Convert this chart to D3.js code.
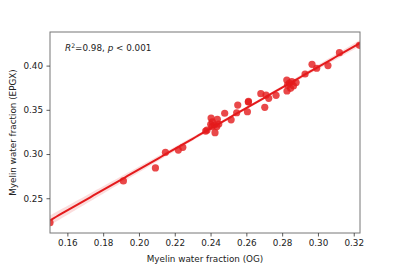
<!DOCTYPE html>
<html>
<head>
<meta charset="utf-8">
<script src="https://cdn.jsdelivr.net/npm/d3@7"></script>
<style>
body{margin:0;background:#fff;}
text{font-family:"DejaVu Sans",sans-serif;}
</style>
</head>
<body>
<svg id="c" width="400" height="267"></svg>
<script>
const ogValues = [0.1503,0.1913,0.2092,0.2148,0.2220,0.2245,0.2373,0.2380,0.2403,0.2401,0.2421,0.2438,0.2446,0.2425,0.2408,0.2435,0.2410,0.2479,0.2515,0.2552,0.2546,0.2606,0.2611,0.2612,0.2681,0.2703,0.2710,0.2725,0.2766,0.2826,0.2827,0.2840,0.2854,0.2863,0.2878,0.2847,0.2830,0.2928,0.2967,0.2993,0.3056,0.3120,0.3232];
const epgxValues = [0.2224,0.2696,0.2843,0.3020,0.3045,0.3076,0.3260,0.3270,0.3407,0.3336,0.3328,0.3392,0.3339,0.3241,0.3309,0.3310,0.3365,0.3461,0.3387,0.3554,0.3467,0.3478,0.3588,0.3595,0.3682,0.3528,0.3667,0.3630,0.3664,0.3837,0.3713,0.3801,0.3819,0.3770,0.3808,0.3743,0.3780,0.3905,0.4015,0.3970,0.4000,0.4146,0.4229];
const xTicks = [0.16,0.18,0.20,0.22,0.24,0.26,0.28,0.30,0.32];
const yTicks = [0.25,0.30,0.35,0.40];
const xDomain = [0.1503,0.3235];
const yDomain = [0.2107,0.438];
const xLabel = "Myelin water fraction (OG)";
const yLabel = "Myelin water fraction (EPGX)";

const data = ogValues.map((x,i)=>({x, y: epgxValues[i]}));
const L=50,T=32,R=360,B=233;
const svg = d3.select("#c");
const x = d3.scaleLinear().domain(xDomain).range([L,R]);
const y = d3.scaleLinear().domain(yDomain).range([B,T]);

svg.append("defs").append("clipPath").attr("id","clip")
  .append("rect").attr("x",L).attr("y",T).attr("width",R-L).attr("height",B-T);

// regression
const n = data.length;
const mx = d3.mean(data,d=>d.x), my = d3.mean(data,d=>d.y);
const sxx = d3.sum(data,d=>(d.x-mx)**2);
const sxy = d3.sum(data,d=>(d.x-mx)*(d.y-my));
const b = sxy/sxx, a = my - b*mx;
const sse = d3.sum(data,d=>(d.y-(a+b*d.x))**2);
const s = Math.sqrt(sse/(n-2));
const tval = 2.02;
const xs = d3.range(0,101).map(i=>xDomain[0]+(xDomain[1]-xDomain[0])*i/100);
const band = xs.map(xv=>{
  const se = s*Math.sqrt(1/n + (xv-mx)**2/sxx);
  const yh = a+b*xv;
  return {x:xv, lo:yh-tval*se, hi:yh+tval*se, y:yh};
});
const g = svg.append("g").attr("clip-path","url(#clip)");
g.append("path").datum(band)
  .attr("d", d3.area().x(d=>x(d.x)).y0(d=>y(d.lo)).y1(d=>y(d.hi)))
  .attr("fill","#e41a1c").attr("fill-opacity",0.15);
g.selectAll("circle").data(data).join("circle")
  .attr("cx",d=>x(d.x)).attr("cy",d=>y(d.y)).attr("r",3.6)
  .attr("fill","#e41a1c").attr("fill-opacity",0.8);
g.append("path").datum(band)
  .attr("d", d3.line().x(d=>x(d.x)).y(d=>y(d.y)))
  .attr("fill","none").attr("stroke","#e41a1c").attr("stroke-width",2);

// frame
svg.append("rect").attr("x",L).attr("y",T).attr("width",R-L).attr("height",B-T)
  .attr("fill","none").attr("stroke","#777").attr("stroke-width",1);

const xa = svg.append("g").attr("transform",`translate(0,${B})`)
  .call(d3.axisBottom(x).tickValues(xTicks).tickFormat(d3.format(".2f")).tickSize(3.5).tickPadding(3.5));
const ya = svg.append("g").attr("transform",`translate(${L},0)`)
  .call(d3.axisLeft(y).tickValues(yTicks).tickFormat(d3.format(".2f")).tickSize(3.5).tickPadding(3.5));
[xa,ya].forEach(ax=>{
  ax.select(".domain").remove();
  ax.selectAll("line").attr("stroke","#333").attr("stroke-width",0.8);
  ax.selectAll("text").attr("font-size",8.8).attr("fill","#222").attr("font-family","DejaVu Sans");
});

svg.append("text").attr("x",(L+R)/2).attr("y",262).attr("text-anchor","middle")
  .attr("font-size",8.8).attr("fill","#222").text(xLabel);
svg.append("text").attr("transform",`translate(16,${(T+B)/2}) rotate(-90)`)
  .attr("text-anchor","middle").attr("font-size",8.8).attr("fill","#222").text(yLabel);

const ann = svg.append("text").attr("x",65).attr("y",51).attr("font-size",8.8).attr("fill","#222");
ann.append("tspan").attr("font-style","italic").text("R");
ann.append("tspan").attr("font-size",6.2).attr("dy",-3.5).text("2");
ann.append("tspan").attr("dy",3.5).text("=0.98, ");
ann.append("tspan").attr("font-style","italic").text("p");
ann.append("tspan").text(" < 0.001");
</script>
</body>
</html>
